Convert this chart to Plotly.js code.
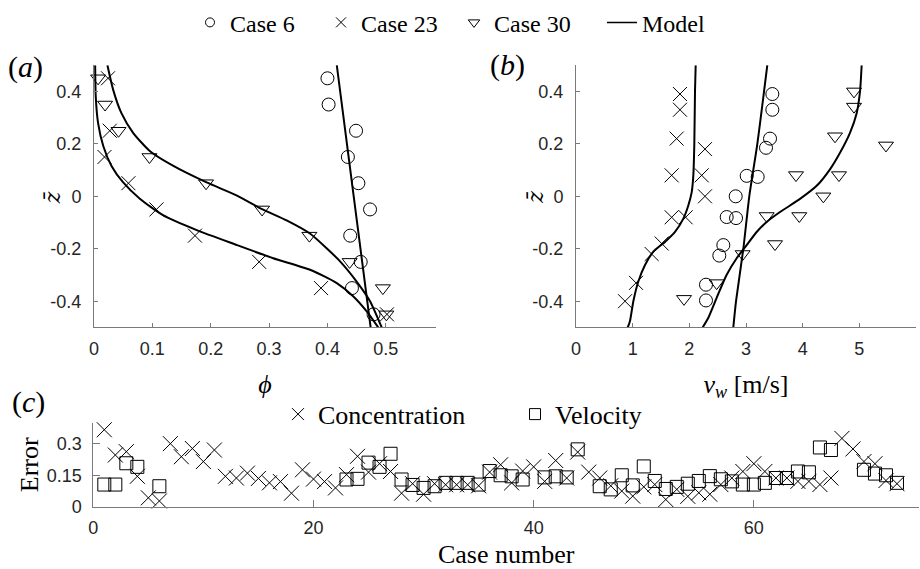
<!DOCTYPE html>
<html>
<head>
<meta charset="utf-8">
<script src="https://cdn.plot.ly/plotly-3.0.1.min.js"></script>
<style>html,body{margin:0;padding:0;background:#fff;}#chart{width:920px;height:569px;}</style>
</head>
<body>
<div id="chart"></div>
<script>
// ---------- Panel (a): concentration profiles phi vs z-bar ----------
const zLevelsA = [0.45, 0.35, 0.25, 0.15, 0.05, -0.05, -0.15, -0.25, -0.35, -0.45];
const phiCase6 = [0.400, 0.402, 0.449, 0.435, 0.453, 0.473, 0.439, 0.457, 0.442, 0.479];
const phiCase23 = [0.024, -0.002, 0.027, 0.018, 0.059, 0.107, 0.173, 0.283, 0.389, 0.502];
const phiCase30 = [0.007, 0.019, 0.042, 0.095, 0.192, 0.288, 0.369, 0.438, 0.495, 0.501];

const modelZ6a = [0.5, 0.0, -0.5];
const modelPhi6 = [0.416, 0.445, 0.474];
const modelZ23a = [0.5, 0.38, 0.279, 0.191, 0.116, 0.053, -0.01, -0.073, -0.129, -0.186, -0.236, -0.280, -0.331, -0.381, -0.438, -0.5];
const modelPhi23 = [0.002, 0.003, 0.007, 0.016, 0.030, 0.050, 0.079, 0.119, 0.176, 0.245, 0.307, 0.370, 0.416, 0.444, 0.467, 0.487];
const modelZ30a = [0.5, 0.405, 0.317, 0.242, 0.172, 0.116, 0.053, 0.003, -0.048, -0.092, -0.142, -0.199, -0.249, -0.325, -0.4, -0.5];
const modelPhi30 = [0.023, 0.033, 0.047, 0.067, 0.096, 0.136, 0.193, 0.245, 0.287, 0.330, 0.370, 0.399, 0.422, 0.450, 0.473, 0.493];

// ---------- Panel (b): velocity profiles v_w vs z-bar ----------
const zCase6b = [0.39, 0.33, 0.22, 0.185, 0.078, 0.074, 0.0, -0.079, -0.083, -0.186, -0.226, -0.337, -0.397];
const vCase6 = [3.465, 3.465, 3.424, 3.353, 3.012, 3.206, 2.818, 2.659, 2.824, 2.600, 2.529, 2.294, 2.294];
const zCase23b = [0.39, 0.33, 0.22, 0.18, 0.08, 0.08, 0.0, -0.08, -0.08, -0.18, -0.22, -0.33, -0.40];
const vCase23 = [1.835, 1.835, 1.776, 2.276, 1.688, 2.218, 2.276, 1.688, 1.935, 1.512, 1.335, 1.059, 0.865];
const zCase30b = [0.40, 0.342, 0.229, 0.194, 0.081, 0.081, 0.0, -0.075, -0.075, -0.182, -0.22, -0.331, -0.391];
const vCase30 = [4.906, 4.906, 4.571, 5.470, 3.882, 4.641, 4.365, 3.365, 3.940, 3.512, 2.941, 2.482, 1.906];

const modelZ6b = [0.5, 0.2, 0.0, -0.2, -0.4, -0.5];
const modelV6 = [3.376, 3.200, 3.058, 2.953, 2.824, 2.776];
const modelZ23b = [0.5, 0.4, 0.2, 0.078, 0.015, -0.035, -0.085, -0.136, -0.174, -0.211, -0.262, -0.325, -0.4, -0.475, -0.5];
const modelV23 = [2.112, 2.100, 2.088, 2.070, 2.041, 1.982, 1.894, 1.747, 1.570, 1.365, 1.218, 1.100, 1.012, 0.953, 0.912];
const modelZ30b = [0.5, 0.4, 0.317, 0.242, 0.166, 0.103, 0.04, -0.01, -0.06, -0.098, -0.136, -0.186, -0.236, -0.299, -0.387, -0.463, -0.5];
const modelV30 = [5.041, 5.012, 4.953, 4.835, 4.659, 4.482, 4.247, 3.953, 3.600, 3.365, 3.188, 3.012, 2.835, 2.659, 2.482, 2.335, 2.235];

// ---------- Panel (c): error per case ----------
const concCases = [1,2,3,4,5,6,7,8,9,10,11,12,13,14,15,16,17,18,19,20,21,22,23,24,25,26,27,28,29,30,31,32,33,34,35,36,37,38,39,40,41,42,43,44,45,46,47,48,49,50,51,52,53,54,55,56,57,58,59,60,61,62,63,64,65,66,67,68,69,70,71,72,73];
const concError = [0.366,0.246,0.262,0.145,0.043,0.028,0.300,0.238,0.277,0.215,0.270,0.145,0.137,0.160,0.135,0.114,0.120,0.065,0.176,0.132,0.120,0.090,0.153,0.240,0.165,0.205,0.168,0.065,0.110,0.060,0.110,0.105,0.105,0.105,0.100,0.165,0.200,0.114,0.170,0.190,0.121,0.220,0.137,0.260,0.165,0.137,0.100,0.075,0.051,0.095,0.106,0.035,0.083,0.050,0.067,0.060,0.106,0.137,0.168,0.205,0.168,0.137,0.137,0.121,0.121,0.106,0.137,0.325,0.275,0.215,0.205,0.125,0.110];
const velCases = [1,2,3,4,6,23,24,25,26,27,28,29,30,31,32,33,34,35,36,37,38,39,41,42,43,44,46,47,48,49,50,51,52,53,54,55,56,57,58,59,60,61,62,63,64,65,66,67,70,71,72,73];
const velError = [0.106,0.106,0.207,0.190,0.098,0.130,0.133,0.210,0.190,0.252,0.130,0.104,0.090,0.098,0.114,0.114,0.114,0.106,0.170,0.150,0.145,0.130,0.140,0.145,0.140,0.273,0.098,0.083,0.150,0.102,0.192,0.123,0.085,0.095,0.110,0.123,0.146,0.131,0.121,0.106,0.106,0.114,0.137,0.137,0.168,0.164,0.282,0.270,0.176,0.158,0.150,0.114];

// ---------- Tick labels ----------
const phiTicks = [0, 0.1, 0.2, 0.3, 0.4, 0.5];
const phiTickText = ['0', '0.1', '0.2', '0.3', '0.4', '0.5'];
const zTicks = [-0.4, -0.2, 0, 0.2, 0.4];
const zTickText = ['-0.4', '-0.2', '0', '0.2', '0.4'];
const vTicks = [0, 1, 2, 3, 4, 5, 6];
const vTickText = ['0', '1', '2', '3', '4', '5', '6'];
const caseTicks = [0, 20, 40, 60];
const caseTickText = ['0', '20', '40', '60'];
const errTicks = [0, 0.15, 0.3];
const errTickText = ['0', '0.15', '0.3'];

const legendNames = ['Case 6', 'Case 23', 'Case 30', 'Model'];
const legendNamesC = ['Concentration', 'Velocity'];

// ---------- Styling ----------
const W = 920, H = 569;
const px = v => v / W;
const py = v => 1 - v / H;
const serif = 'Liberation Serif';
const sans = 'Liberation Sans';
const ink = '#000000';
const mk = (sym, size) => ({symbol: sym, size: size, color: ink, line: {width: 1, color: ink}});
const modelLine = {color: ink, width: 2, shape: 'spline', smoothing: 0.6};

function pts(x, y, xa, ya, sym, size) {
  return {type: 'scatter', mode: 'markers', x: x, y: y, xaxis: xa, yaxis: ya,
          marker: mk(sym, size), showlegend: false, cliponaxis: false, hoverinfo: 'skip'};
}
function line(x, y, xa, ya) {
  return {type: 'scatter', mode: 'lines', x: x, y: y, xaxis: xa, yaxis: ya,
          line: modelLine, showlegend: false, hoverinfo: 'skip'};
}

const traces = [
  // panel (a)
  pts(phiCase6, zLevelsA, 'x', 'y', 'circle-open', 13),
  pts(phiCase23, zLevelsA, 'x', 'y', 'x-thin-open', 14),
  pts(phiCase30, zLevelsA, 'x', 'y', 'triangle-down-open', 13),
  line(modelPhi6, modelZ6a, 'x', 'y'),
  line(modelPhi23, modelZ23a, 'x', 'y'),
  line(modelPhi30, modelZ30a, 'x', 'y'),
  // panel (b)
  pts(vCase6, zCase6b, 'x2', 'y2', 'circle-open', 13),
  pts(vCase23, zCase23b, 'x2', 'y2', 'x-thin-open', 14),
  pts(vCase30, zCase30b, 'x2', 'y2', 'triangle-down-open', 13),
  line(modelV6, modelZ6b, 'x2', 'y2'),
  line(modelV23, modelZ23b, 'x2', 'y2'),
  line(modelV30, modelZ30b, 'x2', 'y2'),
  // panel (c)
  pts(concCases, concError, 'x3', 'y3', 'x-thin-open', 15),
  pts(velCases, velError, 'x3', 'y3', 'square-open', 13),
  // top legend entries
  {type: 'scatter', mode: 'markers', x: [null], y: [null], xaxis: 'x', yaxis: 'y', name: legendNames[0],
   marker: mk('circle-open', 9), legend: 'legend', legendwidth: 86},
  {type: 'scatter', mode: 'markers', x: [null], y: [null], xaxis: 'x', yaxis: 'y', name: legendNames[1],
   marker: mk('x-thin-open', 10), legend: 'legend', legendwidth: 88},
  {type: 'scatter', mode: 'markers', x: [null], y: [null], xaxis: 'x', yaxis: 'y', name: legendNames[2],
   marker: mk('triangle-down-open', 10), legend: 'legend', legendwidth: 103},
  {type: 'scatter', mode: 'lines', x: [null], y: [null], xaxis: 'x', yaxis: 'y', name: legendNames[3],
   line: {color: ink, width: 1.5}, legend: 'legend'},
  // (c) legend entries
  {type: 'scatter', mode: 'markers', x: [null], y: [null], xaxis: 'x3', yaxis: 'y3', name: legendNamesC[0],
   marker: mk('x-thin-open', 12), legend: 'legend2', legendwidth: 192},
  {type: 'scatter', mode: 'markers', x: [null], y: [null], xaxis: 'x3', yaxis: 'y3', name: legendNamesC[1],
   marker: mk('square-open', 11), legend: 'legend2'}
];

const tickFont = {family: sans, size: 18, color: '#262626'};
const baseAxis = {
  showline: true, linecolor: '#7a7a7a', linewidth: 1, mirror: false,
  ticks: 'inside', tickcolor: '#7a7a7a', tickwidth: 1,
  showgrid: false, zeroline: false, fixedrange: true
};
const titleFont = () => ({family: serif, size: 26, color: ink});

const layout = {
  width: W, height: H,
  margin: {l: 0, r: 0, t: 0, b: 0},
  font: {family: serif, size: 24, color: ink},
  paper_bgcolor: '#ffffff', plot_bgcolor: '#ffffff',
  showlegend: true,
  xaxis: Object.assign({}, baseAxis, {
    domain: [px(94), px(436)], range: [0, 0.586], anchor: 'y', tickfont: Object.assign({}, tickFont),
    tickmode: 'array', tickvals: phiTicks, ticktext: phiTickText, ticklen: 4, ticklabelstandoff: 5,
    title: {text: '<i>ϕ</i>', font: titleFont(), standoff: 16}
  }),
  yaxis: Object.assign({}, baseAxis, {
    domain: [py(324), py(58)], range: [-0.5, 0.5], anchor: 'x', tickfont: Object.assign({}, tickFont),
    tickmode: 'array', tickvals: zTicks, ticktext: zTickText, ticklen: 4, ticklabelstandoff: 8
  }),
  xaxis2: Object.assign({}, baseAxis, {
    domain: [px(576), px(916)], range: [0, 6], anchor: 'y2', tickfont: Object.assign({}, tickFont),
    tickmode: 'array', tickvals: vTicks, ticktext: vTickText, ticklen: 4, ticklabelstandoff: 5,
    title: {text: '<i>v</i><sub><i>w</i></sub> [m/s]', font: titleFont(), standoff: 16}
  }),
  yaxis2: Object.assign({}, baseAxis, {
    domain: [py(324), py(58)], range: [-0.5, 0.5], anchor: 'x2', tickfont: Object.assign({}, tickFont),
    tickmode: 'array', tickvals: zTicks, ticktext: zTickText, ticklen: 4, ticklabelstandoff: 8
  }),
  xaxis3: Object.assign({}, baseAxis, {
    domain: [px(93.3), px(919)], range: [0, 75], anchor: 'y3', tickfont: Object.assign({}, tickFont),
    tickmode: 'array', tickvals: caseTicks, ticktext: caseTickText, ticklen: 7, ticklabelstandoff: 5,
    title: {text: 'Case number', font: titleFont(), standoff: 16}
  }),
  yaxis3: Object.assign({}, baseAxis, {
    domain: [py(506), py(420.5)], range: [0, 0.4], anchor: 'x3', tickfont: Object.assign({}, tickFont),
    tickmode: 'array', tickvals: errTicks, ticktext: errTickText, ticklen: 7, ticklabelstandoff: 7,
    title: {text: 'Error', font: titleFont(), standoff: 0}
  }),
  legend: {
    orientation: 'h', x: px(190), y: py(15), xanchor: 'left', yanchor: 'middle',
    font: {family: serif, size: 24, color: ink}, bgcolor: 'rgba(0,0,0,0)', borderwidth: 0,
    itemclick: false, itemdoubleclick: false
  },
  legend2: {
    orientation: 'h', x: px(278), y: py(412), xanchor: 'left', yanchor: 'middle',
    font: {family: serif, size: 26, color: ink}, bgcolor: 'rgba(0,0,0,0)', borderwidth: 0,
    itemclick: false, itemdoubleclick: false
  },
  annotations: [
    {text: '(<i>a</i>)', xref: 'paper', yref: 'paper', x: px(25), y: py(60), showarrow: false,
     xanchor: 'center', yanchor: 'middle', font: {family: serif, size: 30, color: ink}},
    {text: '(<i>b</i>)', xref: 'paper', yref: 'paper', x: px(507), y: py(58), showarrow: false,
     xanchor: 'center', yanchor: 'middle', font: {family: serif, size: 30, color: ink}},
    {text: '(<i>c</i>)', xref: 'paper', yref: 'paper', x: px(28), y: py(400), showarrow: false,
     xanchor: 'center', yanchor: 'middle', font: {family: serif, size: 30, color: ink}},
    {text: '<i>z̄</i>', xref: 'paper', yref: 'paper', x: px(52), y: py(193), showarrow: false,
     textangle: -90, xanchor: 'center', yanchor: 'middle', font: {family: 'DejaVu Serif', size: 22, color: ink}},
    {text: '<i>z̄</i>', xref: 'paper', yref: 'paper', x: px(535.5), y: py(192), showarrow: false,
     textangle: -90, xanchor: 'center', yanchor: 'middle', font: {family: 'DejaVu Serif', size: 22, color: ink}}
  ]
};

Plotly.newPlot('chart', traces, layout, {staticPlot: true, displayModeBar: false});
</script>
</body>
</html>
